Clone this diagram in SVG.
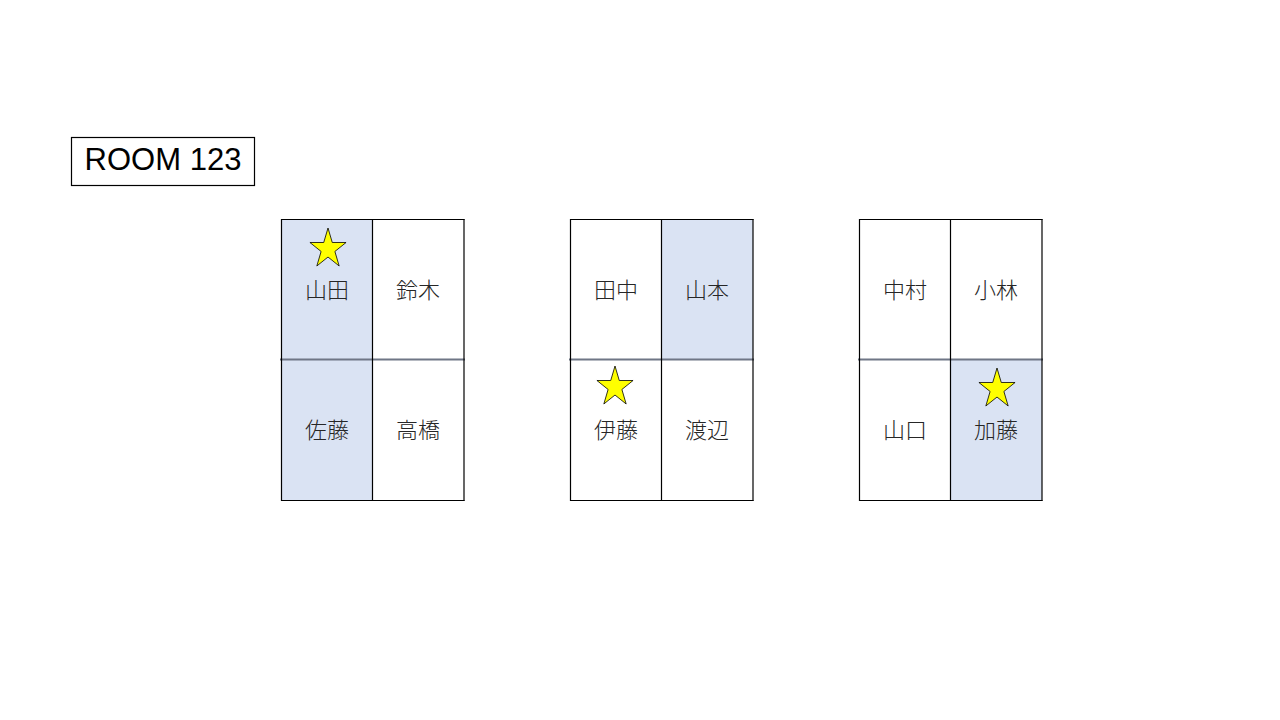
<svg xmlns="http://www.w3.org/2000/svg" xmlns:xlink="http://www.w3.org/1999/xlink" width="1280" height="720" viewBox="0 0 1280 720">
<style>
.bg{fill:#ffffff}
.cell{fill:#ffffff}
.hl{fill:#DAE3F3}
.v{stroke:#000000;stroke-width:1.2;fill:none}
.h{stroke:#6F7686;stroke-width:2.2;fill:none}
.hb{stroke:#000000;stroke-width:1.2;fill:none}
.name{font-family:"Noto Sans CJK JP","Noto Sans CJK SC",sans-serif;font-size:22px;font-weight:300;fill:#262626;text-anchor:middle;dominant-baseline:central}
.title{font-family:"Liberation Sans","Noto Sans",sans-serif;font-size:31px;fill:#000000;text-anchor:middle}
.star{fill:#FFFF00;stroke:#000000;stroke-width:0.8;stroke-linejoin:miter}
</style>
<defs>
<polygon id="star" class="star" points="0,-21 4.27,-6.49 18.07,-6.49 6.9,2.48 11.17,16.99 0,8.02 -11.17,16.99 -6.9,2.48 -18.07,-6.49 -4.27,-6.49"/>
</defs>
<rect class="bg" x="0" y="0" width="1280" height="720"/>

<g id="title">
<rect x="71.5" y="137.5" width="183" height="48" fill="#ffffff" stroke="#000000" stroke-width="1.2"/>
<text class="title" x="163" y="170">ROOM 123</text>
</g>

<g id="table1">
<rect class="hl" x="281.5" y="219.5" width="91" height="281"/>
<rect class="cell" x="372.5" y="219.5" width="91.5" height="281"/>
<line class="hb" x1="281" y1="219.5" x2="464.5" y2="219.5"/>
<line class="hb" x1="281" y1="500.5" x2="464.5" y2="500.5"/>
<line class="h" x1="280" y1="359.5" x2="465" y2="359.5"/>
<line class="v" x1="281.5" y1="219" x2="281.5" y2="501"/>
<line class="v" x1="372.5" y1="219" x2="372.5" y2="501"/>
<line class="v" x1="464" y1="219" x2="464" y2="501"/>
<use xlink:href="#star" href="#star" x="328" y="249"/>
<text class="name" x="327" y="288">山田</text>
<text class="name" x="418" y="288">鈴木</text>
<text class="name" x="327" y="428">佐藤</text>
<text class="name" x="418" y="428">高橋</text>
</g>

<g id="table2">
<rect class="cell" x="570.5" y="219.5" width="91" height="281"/>
<rect class="hl" x="661.5" y="219.5" width="91.5" height="140"/>
<rect class="cell" x="661.5" y="359.5" width="91.5" height="141"/>
<line class="hb" x1="570" y1="219.5" x2="753.5" y2="219.5"/>
<line class="hb" x1="570" y1="500.5" x2="753.5" y2="500.5"/>
<line class="h" x1="569" y1="359.5" x2="754" y2="359.5"/>
<line class="v" x1="570.5" y1="219" x2="570.5" y2="501"/>
<line class="v" x1="661.5" y1="219" x2="661.5" y2="501"/>
<line class="v" x1="753" y1="219" x2="753" y2="501"/>
<use xlink:href="#star" href="#star" x="615" y="387"/>
<text class="name" x="616" y="288">田中</text>
<text class="name" x="707" y="288">山本</text>
<text class="name" x="616" y="428">伊藤</text>
<text class="name" x="707" y="428">渡辺</text>
</g>

<g id="table3">
<rect class="cell" x="859.5" y="219.5" width="91" height="281"/>
<rect class="cell" x="950.5" y="219.5" width="91.5" height="140"/>
<rect class="hl" x="950.5" y="359.5" width="91.5" height="141"/>
<line class="hb" x1="859" y1="219.5" x2="1042.5" y2="219.5"/>
<line class="hb" x1="859" y1="500.5" x2="1042.5" y2="500.5"/>
<line class="h" x1="858" y1="359.5" x2="1043" y2="359.5"/>
<line class="v" x1="859.5" y1="219" x2="859.5" y2="501"/>
<line class="v" x1="950.5" y1="219" x2="950.5" y2="501"/>
<line class="v" x1="1042" y1="219" x2="1042" y2="501"/>
<use xlink:href="#star" href="#star" x="997" y="389"/>
<text class="name" x="905" y="288">中村</text>
<text class="name" x="996" y="288">小林</text>
<text class="name" x="905" y="428">山口</text>
<text class="name" x="996" y="428">加藤</text>
</g>

<g id="connectors"></g>
</svg>
